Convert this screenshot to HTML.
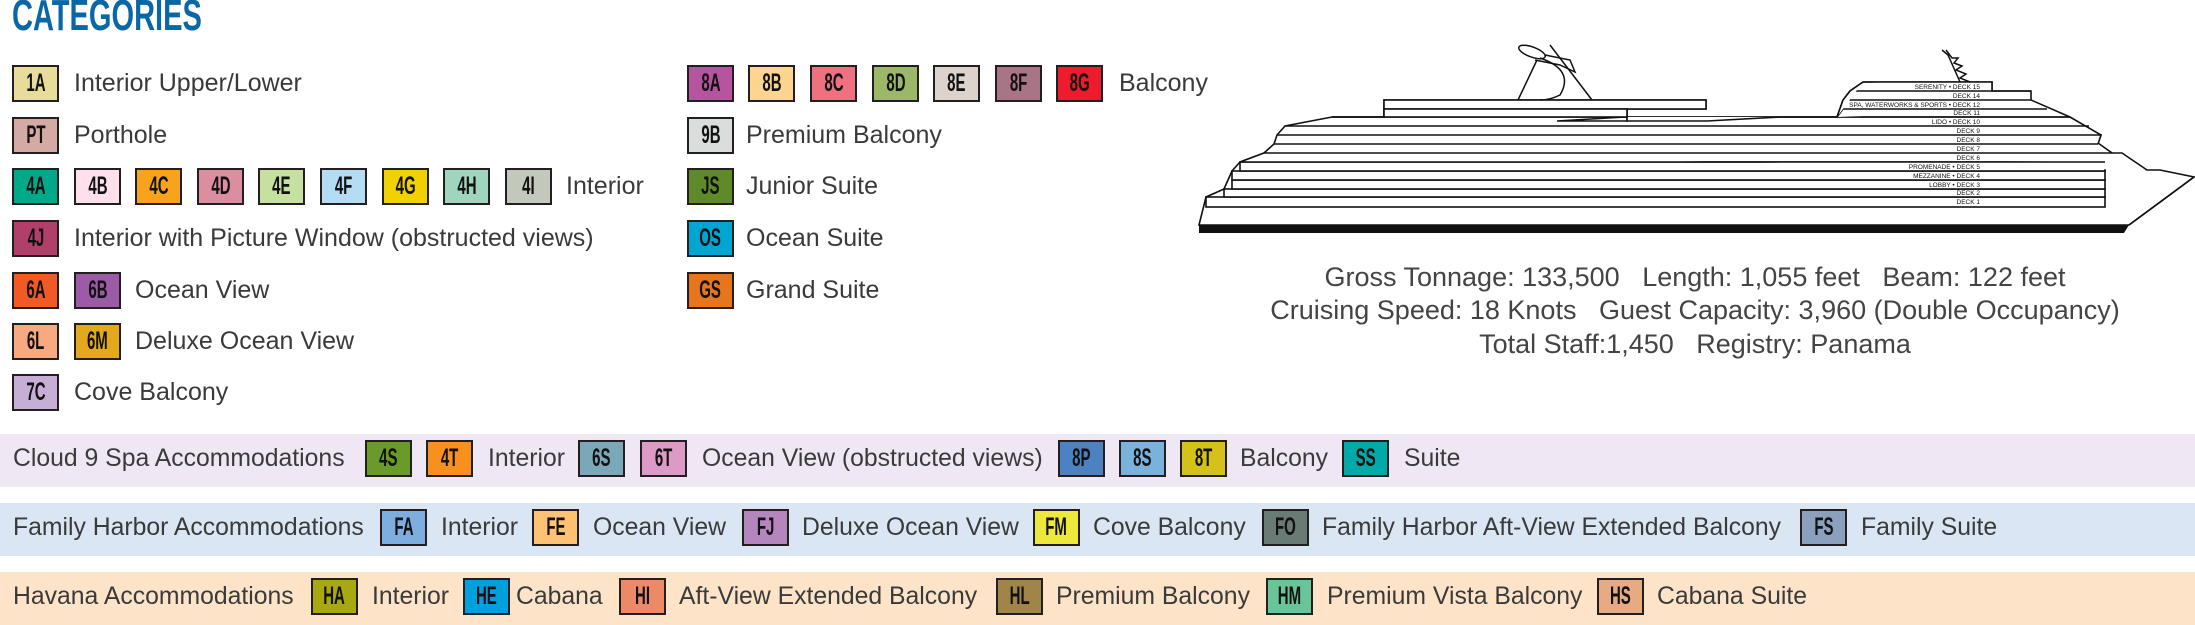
<!DOCTYPE html>
<html><head><meta charset="utf-8"><style>
body{margin:0;width:2195px;height:625px;background:#fff;position:relative;overflow:hidden;font-family:"Liberation Sans",sans-serif}
.b{position:absolute;width:47px;height:37px;border:2px solid #231f20;box-sizing:border-box;text-align:center;line-height:33px;font-weight:bold;font-size:25px;color:#111;overflow:hidden}
.b span{display:inline-block;transform:scaleX(.6)}
.t{position:absolute;height:37px;line-height:37px;font-size:25px;color:#3a3a3a;white-space:nowrap;transform:scaleX(1);transform-origin:left center}
.band{position:absolute;left:0;width:2195px;height:53px}
.bt{position:absolute;height:37px;line-height:37px;font-size:25px;color:#3a3a3a;white-space:nowrap;transform:scaleX(.99);transform-origin:left center}
.st{position:absolute;left:1180px;width:1030px;text-align:center;font-size:27px;color:#444;white-space:nowrap}
.st span{display:inline-block;transform:scaleX(1)}
</style></head><body>
<div style="position:absolute;left:12px;top:-9px;font-weight:bold;font-size:44px;color:#0a67a6;transform:scaleX(.66);transform-origin:left top;white-space:nowrap">CATEGORIES</div>

<div class="b" style="left:12px;top:65px;background:#e8dc9a"><span>1A</span></div><div class="t" style="left:74px;top:65px">Interior Upper/Lower</div>
<div class="b" style="left:12px;top:117px;background:#d4aaa5"><span>PT</span></div><div class="t" style="left:74px;top:117px">Porthole</div>
<div class="b" style="left:12px;top:168px;background:#00a98a"><span>4A</span></div>
<div class="b" style="left:74px;top:168px;background:#fde0ec"><span>4B</span></div>
<div class="b" style="left:135px;top:168px;background:#f7a31c"><span>4C</span></div>
<div class="b" style="left:197px;top:168px;background:#db8ea0"><span>4D</span></div>
<div class="b" style="left:258px;top:168px;background:#c6e0a0"><span>4E</span></div>
<div class="b" style="left:320px;top:168px;background:#b4dcf2"><span>4F</span></div>
<div class="b" style="left:382px;top:168px;background:#f1d200"><span>4G</span></div>
<div class="b" style="left:443px;top:168px;background:#9ed5bc"><span>4H</span></div>
<div class="b" style="left:505px;top:168px;background:#c3c8bc"><span>4I</span></div>
<div class="t" style="left:566px;top:168px">Interior</div>
<div class="b" style="left:12px;top:220px;background:#b0406a"><span>4J</span></div><div class="t" style="left:74px;top:220px">Interior with Picture Window (obstructed views)</div>
<div class="b" style="left:12px;top:272px;background:#f15a24"><span>6A</span></div>
<div class="b" style="left:74px;top:272px;background:#9b5ba7"><span>6B</span></div><div class="t" style="left:135px;top:272px">Ocean View</div>
<div class="b" style="left:12px;top:323px;background:#f7a982"><span>6L</span></div>
<div class="b" style="left:74px;top:323px;background:#e2a91c"><span>6M</span></div><div class="t" style="left:135px;top:323px">Deluxe Ocean View</div>
<div class="b" style="left:12px;top:374px;background:#c6aed6"><span>7C</span></div><div class="t" style="left:74px;top:374px">Cove Balcony</div>

<div class="b" style="left:687px;top:65px;background:#b7549f"><span>8A</span></div>
<div class="b" style="left:748px;top:65px;background:#fdd58f"><span>8B</span></div>
<div class="b" style="left:810px;top:65px;background:#ef707e"><span>8C</span></div>
<div class="b" style="left:872px;top:65px;background:#9bb868"><span>8D</span></div>
<div class="b" style="left:933px;top:65px;background:#dcd3cc"><span>8E</span></div>
<div class="b" style="left:995px;top:65px;background:#a97486"><span>8F</span></div>
<div class="b" style="left:1056px;top:65px;background:#ec1c2e"><span>8G</span></div>
<div class="t" style="left:1119px;top:65px">Balcony</div>
<div class="b" style="left:687px;top:117px;background:#d9dedd"><span>9B</span></div><div class="t" style="left:746px;top:117px">Premium Balcony</div>
<div class="b" style="left:687px;top:168px;background:#5e8a2a"><span>JS</span></div><div class="t" style="left:746px;top:168px">Junior Suite</div>
<div class="b" style="left:687px;top:220px;background:#00a6d2"><span>OS</span></div><div class="t" style="left:746px;top:220px">Ocean Suite</div>
<div class="b" style="left:687px;top:272px;background:#e5761e"><span>GS</span></div><div class="t" style="left:746px;top:272px">Grand Suite</div>

<svg style="position:absolute;left:0;top:0" width="2195" height="625" viewBox="0 0 2195 625">
<g fill="#fff" stroke="#111" stroke-width="1.6">
<path d="M1206,197 L1199,225 L2129,225 L2194,177 L2160,170 L2147,170 L2122,160 L2098,143 L2101,135 L2070,117 L2031,100 L2031,91 L1992,91 L1992,82 L1863,82 L1850,91 L1843,100 L1837,117 L1625,117 L1557,121 L1627,121 L1627,109 L1706,109 L1706,100 L1384,100 L1384,117 L1332,117 L1285,126 L1277,135 L1274,144 L1264,153 L1240,162 L1232,171 L1224,189 Z"/>
<rect x="1206" y="197" width="899" height="10"/>
<rect x="1224" y="189" width="881" height="8"/>
<rect x="1232" y="180" width="873" height="9"/>
<rect x="1232" y="171" width="873" height="9"/>
<rect x="1240" y="162" width="865" height="9"/>
<path d="M1264,153 L2122,153 L2147,170 M1264,153 L1240,162 L2105,162"/>
<path d="M1274,144 L2098,144 M1277,135 L2101,135 L2098,144 M1285,126 L2089,126 M1332,117 L2070,117"/>
<path d="M1332,117 L1384,117 L1384,109 L1627,109 L1627,121 L1707,121 L1780,117 L2070,117"/>
<rect x="1384" y="100" width="322" height="9"/>
<rect x="1384" y="109" width="243" height="8"/>
<path d="M1837,117 L1843,109 L2047,109 M1843,100 L2031,100 M1850,91 L2031,91 M1863,82 L1992,82 L1992,91"/>
<path d="M1837,117 L1843,100 L1850,91 L1863,82"/>
</g>
<polygon points="1199,225 2129,225 2124,233 1199,233" fill="#111"/>
<path d="M2129,225 L2194,177" stroke="#111" stroke-width="1.6" fill="none"/>
<g fill="none" stroke="#111" stroke-width="1.5">
<line x1="1518" y1="100" x2="1537" y2="60"/>
<line x1="1592" y1="100" x2="1550" y2="45"/>
<ellipse cx="1532" cy="52" rx="14" ry="5" transform="rotate(20 1532 52)" fill="#fff"/>
<path d="M1540,58 Q1575,70 1560,95 Q1550,100 1540,100"/>
<path d="M1535,60 L1560,65 L1575,72 L1570,60 L1545,55"/>
<path d="M1942,50 L1948,55 L1960,82 M1946,50 L1952,58 L1958,58 L1954,63 L1962,66 L1956,70 L1966,74 L1960,78 L1970,82"/>
</g>
<g font-family="Liberation Sans,sans-serif" font-size="6.5" fill="#111" text-anchor="end">
<text x="1980" y="89">SERENITY • DECK 15</text>
<text x="1980" y="98">DECK 14</text>
<text x="1980" y="107">SPA, WATERWORKS &amp; SPORTS • DECK 12</text>
<text x="1980" y="115">DECK 11</text>
<text x="1980" y="124">LIDO • DECK 10</text>
<text x="1980" y="133">DECK 9</text>
<text x="1980" y="142">DECK 8</text>
<text x="1980" y="151">DECK 7</text>
<text x="1980" y="160">DECK 6</text>
<text x="1980" y="169">PROMENADE • DECK 5</text>
<text x="1980" y="178">MEZZANINE • DECK 4</text>
<text x="1980" y="187">LOBBY • DECK 3</text>
<text x="1980" y="195">DECK 2</text>
<text x="1980" y="204">DECK 1</text>
</g>
</svg>
<div class="st" style="top:262px"><span>Gross Tonnage: 133,500&nbsp;&nbsp;&nbsp;Length: 1,055 feet&nbsp;&nbsp;&nbsp;Beam: 122 feet</span></div>
<div class="st" style="top:295px"><span>Cruising Speed: 18 Knots&nbsp;&nbsp;&nbsp;Guest Capacity: 3,960 (Double Occupancy)</span></div>
<div class="st" style="top:329px"><span>Total Staff:1,450&nbsp;&nbsp;&nbsp;Registry: Panama</span></div>

<div class="band" style="top:434px;background:#efe8f4"></div>
<div class="band" style="top:503px;background:#dbe6f4"></div>
<div class="band" style="top:572px;background:#fde4c8"></div>

<div class="bt" style="left:13px;top:440px">Cloud 9 Spa Accommodations</div>
<div class="b" style="left:365px;top:440px;background:#6a9a2a"><span>4S</span></div>
<div class="b" style="left:426px;top:440px;background:#f7901e"><span>4T</span></div>
<div class="bt" style="left:488px;top:440px">Interior</div>
<div class="b" style="left:578px;top:440px;background:#7ba8b8"><span>6S</span></div>
<div class="b" style="left:640px;top:440px;background:#dc9ac4"><span>6T</span></div>
<div class="bt" style="left:702px;top:440px">Ocean View (obstructed views)</div>
<div class="b" style="left:1058px;top:440px;background:#4c82c2"><span>8P</span></div>
<div class="b" style="left:1119px;top:440px;background:#7bb2dc"><span>8S</span></div>
<div class="b" style="left:1180px;top:440px;background:#d4c21a"><span>8T</span></div>
<div class="bt" style="left:1240px;top:440px">Balcony</div>
<div class="b" style="left:1342px;top:440px;background:#00aaa8"><span>SS</span></div>
<div class="bt" style="left:1404px;top:440px">Suite</div>

<div class="bt" style="left:13px;top:509px">Family Harbor Accommodations</div>
<div class="b" style="left:380px;top:509px;background:#7eaee0"><span>FA</span></div>
<div class="bt" style="left:441px;top:509px">Interior</div>
<div class="b" style="left:532px;top:509px;background:#fdc373"><span>FE</span></div>
<div class="bt" style="left:593px;top:509px">Ocean View</div>
<div class="b" style="left:742px;top:509px;background:#b585bd"><span>FJ</span></div>
<div class="bt" style="left:802px;top:509px">Deluxe Ocean View</div>
<div class="b" style="left:1033px;top:509px;background:#eee83a"><span>FM</span></div>
<div class="bt" style="left:1093px;top:509px">Cove Balcony</div>
<div class="b" style="left:1262px;top:509px;background:#6a7a74"><span>FO</span></div>
<div class="bt" style="left:1322px;top:509px">Family Harbor Aft-View Extended Balcony</div>
<div class="b" style="left:1800px;top:509px;background:#8aa0bc"><span>FS</span></div>
<div class="bt" style="left:1861px;top:509px">Family Suite</div>

<div class="bt" style="left:13px;top:578px">Havana Accommodations</div>
<div class="b" style="left:311px;top:578px;background:#a8a810"><span>HA</span></div>
<div class="bt" style="left:372px;top:578px">Interior</div>
<div class="b" style="left:463px;top:578px;background:#00a0dc"><span>HE</span></div>
<div class="bt" style="left:516px;top:578px">Cabana</div>
<div class="b" style="left:619px;top:578px;background:#ec8a68"><span>HI</span></div>
<div class="bt" style="left:679px;top:578px">Aft-View Extended Balcony</div>
<div class="b" style="left:996px;top:578px;background:#a08448"><span>HL</span></div>
<div class="bt" style="left:1056px;top:578px">Premium Balcony</div>
<div class="b" style="left:1266px;top:578px;background:#6ac49a"><span>HM</span></div>
<div class="bt" style="left:1327px;top:578px">Premium Vista Balcony</div>
<div class="b" style="left:1597px;top:578px;background:#e8aa82"><span>HS</span></div>
<div class="bt" style="left:1657px;top:578px">Cabana Suite</div>
</body></html>
